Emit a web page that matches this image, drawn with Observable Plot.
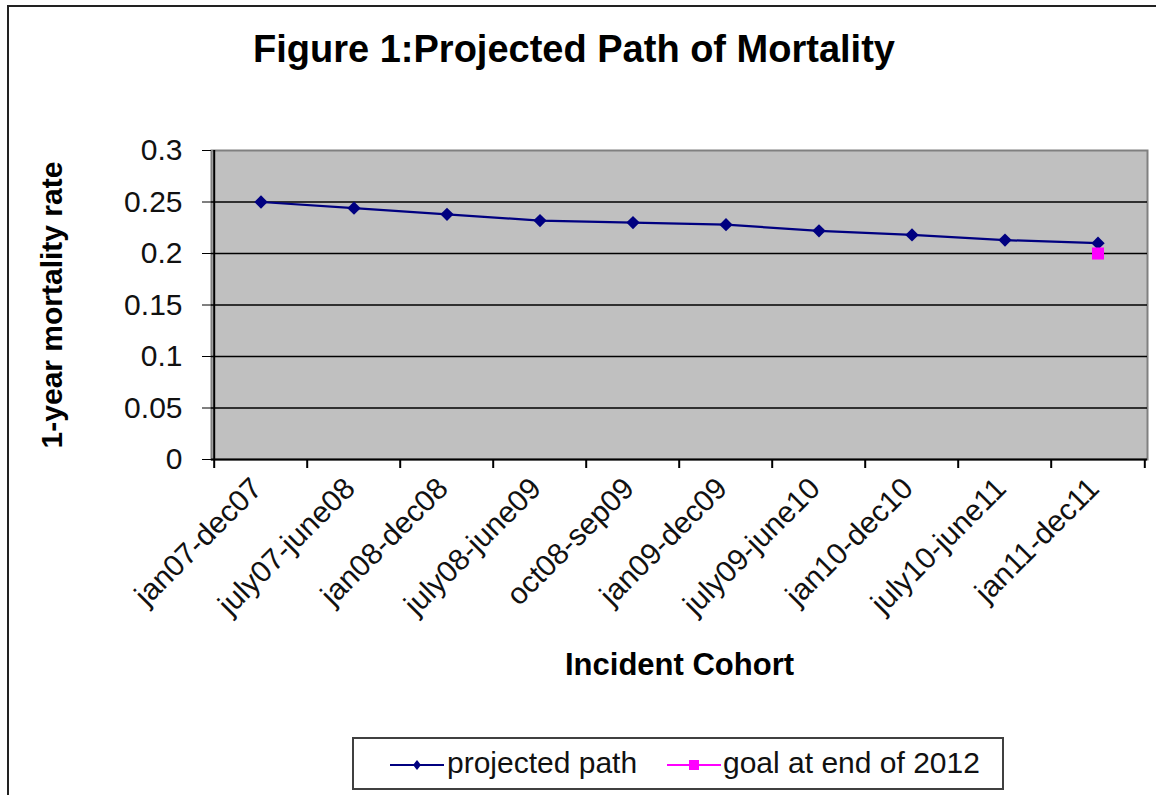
<!DOCTYPE html>
<html>
<head>
<meta charset="utf-8">
<script src="https://cdn.jsdelivr.net/npm/d3@7"></script>
<script src="https://cdn.jsdelivr.net/npm/@observablehq/plot@0.6"></script>
<style>
  html, body { margin: 0; padding: 0; background: #fff; width: 1156px; height: 795px; overflow: hidden; }
  body { position: relative; font-family: "Liberation Sans", Arial, sans-serif; color: #000; }
  #border { position: absolute; left: 7px; top: 5px; width: 1300px; height: 1000px; border: 2px solid #222; box-sizing: border-box; }
  #title { position: absolute; left: 0; top: 30px; width: 1148px; text-align: center; font-weight: bold; font-size: 38px; line-height: 38px; white-space: nowrap; }
  #chart { position: absolute; left: 0; top: 90px; }
  #legend { position: absolute; left: 352px; top: 737px; width: 652px; height: 53px; border: 2px solid #404040; box-sizing: border-box; background: #fff; }
  .lg-text { position: absolute; font-size: 30px; line-height: 30px; white-space: nowrap; color: #111; }
  .lg-svg { position: absolute; }
</style>
</head>
<body>
<div id="border"></div>
<div id="title">Figure 1:Projected Path of Mortality</div>
<div id="chart"></div>
<div id="legend"></div>
<script>
// ---- data ----
const categories = ["jan07-dec07", "july07-june08", "jan08-dec08", "july08-june09", "oct08-sep09",
                    "jan09-dec09", "july09-june10", "jan10-dec10", "july10-june11", "jan11-dec11"];
const projectedPath = [0.25, 0.244, 0.238, 0.232, 0.230, 0.228, 0.222, 0.218, 0.213, 0.210];
const goalCategories = ["jan11-dec11"];
const goalValues = [0.2];
const yTicks = [0, 0.05, 0.1, 0.15, 0.2, 0.25, 0.3];
const yTickLabels = ["0", "0.05", "0.1", "0.15", "0.2", "0.25", "0.3"];
const seriesNames = ["projected path", "goal at end of 2012"];
const seriesColors = ["#000080", "#ff00ff"];
const titleText = "Figure 1:Projected Path of Mortality";
const xLabel = "Incident Cohort";
const yLabel = "1-year mortality rate";

// ---- layout ----
const W = 1156, H = 620;
const mL = 211, mR = 9, mT = 60, mB = 251;
const bw = (W - mL - mR) / categories.length;

const rows = categories.map((c, i) => ({cohort: c, rate: projectedPath[i]}));
const goalRows = goalCategories.map((c, i) => ({cohort: c, rate: goalValues[i]}));

const chart = Plot.plot({
  width: W, height: H,
  marginLeft: mL, marginRight: mR, marginTop: mT, marginBottom: mB,
  style: {fontFamily: "'Liberation Sans', Arial, sans-serif", fontSize: "30px", color: "#000", background: "transparent", overflow: "visible"},
  x: {type: "band", domain: categories, padding: 0, label: null},
  y: {domain: [0, 0.3], label: null},
  marks: [
    Plot.frame({fill: "#c0c0c0", stroke: "#808080", strokeWidth: 2}),
    Plot.ruleY(yTicks.filter(t => t > 0 && t < 0.3), {stroke: "#000", strokeWidth: 1.6}),
    Plot.ruleY([0], {stroke: "#000", strokeWidth: 2}),
    Plot.ruleX([categories[0]], {dx: -bw / 2, stroke: "#000", strokeWidth: 2}),
    Plot.axisY({ticks: yTicks, tickFormat: d => yTickLabels[yTicks.indexOf(d)], tickSize: 9, tickPadding: 20, fontSize: 30, label: null, stroke: "#000", color: "#111"}),
    Plot.axisX({dx: -bw / 2, tickSize: 9, tickFormat: () => "", label: null, strokeWidth: 2}),
    Plot.axisX({ticks: [categories[categories.length - 1]], dx: bw / 2, tickSize: 9, tickFormat: () => "", label: null, strokeWidth: 2}),
    Plot.axisX({tickSize: 0, tickRotate: -45, tickPadding: 24, dx: -4, fontSize: 30, label: null, color: "#111"}),
    Plot.text([xLabel], {text: d => d, frameAnchor: "bottom", dy: 215, fontWeight: "bold", fontSize: 31}),
    Plot.text([yLabel], {text: d => d, frameAnchor: "left", dx: -159, rotate: -90, textAnchor: "middle", fontWeight: "bold", fontSize: 30}),
    Plot.line(rows, {x: "cohort", y: "rate", stroke: seriesColors[0], strokeWidth: 2.2}),
    Plot.dot(rows, {x: "cohort", y: "rate", symbol: "diamond2", r: 6, fill: seriesColors[0]}),
    Plot.dot(goalRows, {x: "cohort", y: "rate", symbol: "square", r: 6.8, fill: seriesColors[1]})
  ]
});
document.getElementById("chart").appendChild(chart);
document.getElementById("title").textContent = titleText;

// ---- legend ----
const legend = document.getElementById("legend");
const items = [
  {name: seriesNames[0], color: seriesColors[0], symbol: "diamond", lineX: 36, textX: 93},
  {name: seriesNames[1], color: seriesColors[1], symbol: "square", lineX: 313, textX: 369}
];
items.forEach(it => {
  const svg = d3.create("svg").attr("class", "lg-svg").attr("width", 56).attr("height", 20)
    .style("left", it.lineX + "px").style("top", "16px");
  svg.append("line").attr("x1", 0).attr("x2", 54).attr("y1", 10).attr("y2", 10)
    .attr("stroke", it.color).attr("stroke-width", 2);
  if (it.symbol === "diamond") {
    svg.append("path").attr("d", "M27,5 L31,10 L27,15 L23,10 Z").attr("fill", it.color);
  } else {
    svg.append("rect").attr("x", 22).attr("y", 5).attr("width", 10).attr("height", 10).attr("fill", it.color);
  }
  legend.appendChild(svg.node());
  const t = document.createElement("div");
  t.className = "lg-text";
  t.style.left = it.textX + "px";
  t.style.top = "9px";
  t.textContent = it.name;
  legend.appendChild(t);
});
</script>
</body>
</html>
